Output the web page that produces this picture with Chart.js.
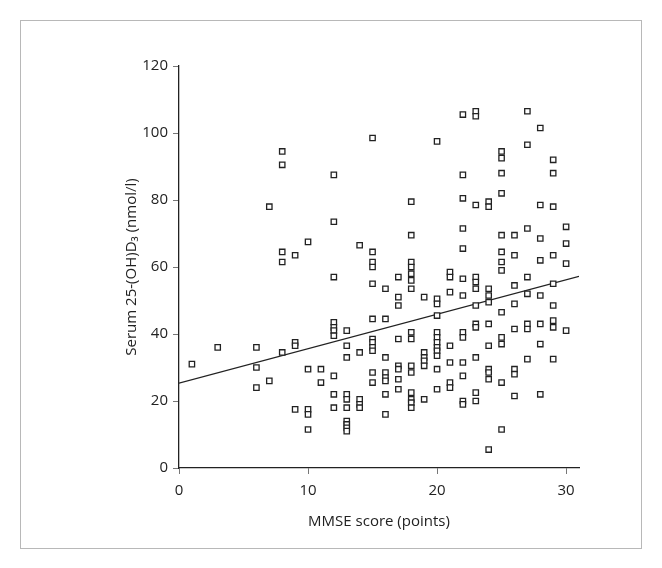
<!DOCTYPE html>
<html lang="en">
<head>
    <meta charset="UTF-8">
    <title>Serum 25-(OH)D3 vs MMSE</title>
    <script src="https://cdn.jsdelivr.net/npm/chart.js"></script>
    <style>
        body { margin: 0; background: #fff; }
        .frame {
            position: absolute;
            left: 20px; top: 20px;
            width: 620px; height: 527px;
            border: 1px solid #b8b8b8;
        }
        #scatterChart { position: absolute; left: 0; top: 0; }
    </style>
</head>
<body>
    <div class="frame"></div>
    <canvas id="scatterChart" width="662" height="568"></canvas>

    <script>
        const mmseScores = [1, 3, 6, 7, 8, 9, 10, 11, 12, 13, 14, 15, 16, 17, 18, 19, 20, 21, 22, 23, 24, 25, 26, 27, 28, 29, 30];
        const serumByScore = [
            [31],
            [36],
            [36, 30, 24],
            [78, 26],
            [94.5, 90.5, 64.5, 61.5, 34.5],
            [63.5, 37.5, 36.5, 17.5],
            [67.5, 29.5, 17.5, 16, 11.5],
            [29.5, 25.5],
            [87.5, 73.5, 57, 43.5, 42, 41, 39.5, 27.5, 22, 18],
            [41, 36.5, 33, 22, 20.5, 18, 14, 13, 12, 11],
            [66.5, 34.5, 20.5, 19, 18],
            [98.5, 64.5, 61.5, 60, 55, 44.5, 38.5, 37.5, 36, 35, 28.5, 25.5],
            [53.5, 44.5, 33, 28.5, 27, 26, 22, 16],
            [57, 51, 48.5, 38.5, 30.5, 29.5, 26.5, 23.5],
            [79.5, 69.5, 61.5, 60, 58, 56, 53.5, 40.5, 38.5, 30.5, 28.5, 22.5, 20.5, 19.5, 18],
            [51, 34.5, 33, 32, 30.5, 20.5],
            [97.5, 50.5, 49, 45.5, 40.5, 39, 37.5, 36, 35, 33.5, 29.5, 23.5],
            [58.5, 57, 52.5, 36.5, 31.5, 25.5, 24],
            [105.5, 87.5, 80.5, 71.5, 65.5, 56.5, 51.5, 40.5, 39, 31.5, 27.5, 20, 19],
            [106.5, 105, 78.5, 57, 55.5, 53.5, 48.5, 43, 42, 33, 22.5, 20],
            [79.5, 78, 53.5, 51.5, 49.5, 43, 36.5, 29.5, 28.5, 26.5, 5.5],
            [94.5, 92.5, 88, 82, 69.5, 64.5, 61.5, 59, 46.5, 39, 37, 25.5, 11.5],
            [69.5, 63.5, 54.5, 49, 41.5, 29.5, 28, 21.5],
            [106.5, 96.5, 71.5, 57, 52, 43, 41.5, 32.5],
            [101.5, 78.5, 68.5, 62, 51.5, 43, 37, 22],
            [92, 88, 78, 63.5, 55, 48.5, 44, 42, 32.5],
            [72, 67, 61, 41]
        ];

        // regression line end points
        const fitX = [0, 31];
        const fitY = [25.3, 57.2];

        const xTicks = [0, 10, 20, 30];
        const yTicks = [0, 20, 40, 60, 80, 100, 120];

        const points = mmseScores.flatMap((score, i) =>
            serumByScore[i].map(v => ({ x: score, y: v })));
        const fitLine = fitX.map((x, i) => ({ x: x, y: fitY[i] }));

        const font = { family: "'Open Sans', 'Noto Sans', sans-serif", size: 15 };
        const ink = '#222';

        function axis(ticks, min, max, title, fit, pad) {
            return {
                type: 'linear',
                min: min,
                max: max,
                afterBuildTicks: s => { s.ticks = ticks.map(v => ({ value: v })); },
                afterFit: fit,
                grid: { drawOnChartArea: false, drawTicks: true, tickLength: 6, color: '#777', lineWidth: 1 },
                border: { display: true, color: ink, width: 1.3 },
                ticks: { color: ink, font: font, padding: pad },
                title: { display: true, text: title, color: ink, font: font, padding: { top: 4, bottom: 4 } }
            };
        }

        const ctx = document.getElementById('scatterChart').getContext('2d');
        new Chart(ctx, {
            type: 'scatter',
            data: {
                datasets: [{
                    data: points,
                    pointStyle: 'rect',
                    pointRadius: 3.8,
                    borderWidth: 1.3,
                    borderColor: ink,
                    backgroundColor: '#fff'
                }, {
                    type: 'line',
                    data: fitLine,
                    borderColor: ink,
                    borderWidth: 1.2,
                    pointRadius: 0,
                    fill: false
                }]
            },
            options: {
                responsive: false,
                animation: false,
                devicePixelRatio: 1,
                layout: { padding: { left: 119, right: 83, top: 66, bottom: 33 } },
                plugins: { legend: { display: false }, tooltip: { enabled: false } },
                scales: {
                    x: axis(xTicks, 0, 31, 'MMSE score (points)', s => { s.height = 67; }, 8),
                    y: axis(yTicks, 0, 120, 'Serum 25-(OH)D\u2083 (nmol/l)', s => { s.width = 60; }, 5)
                }
            }
        });
    </script>
</body>
</html>
